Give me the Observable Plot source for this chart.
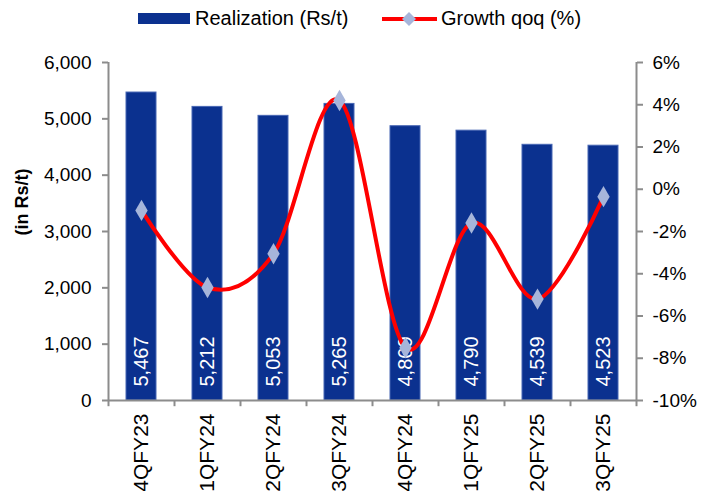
<!DOCTYPE html>
<html>
<head>
<meta charset="utf-8">
<script src="https://cdn.jsdelivr.net/npm/d3@7"></script>
<script src="https://cdn.jsdelivr.net/npm/@observablehq/plot@0.6"></script>
<style>
  body { margin: 0; background: #fff; font-family: "Liberation Sans", Arial, sans-serif; }
  #wrap { width: 713px; position: relative; }
  #legend { position: relative; height: 40px; width: 713px; font-size: 20px; color: #000; }
  #legend .item { position: absolute; top: 0; height: 36px; line-height: 36px; white-space: nowrap; }
  svg { display: block; }
</style>
</head>
<body>
<div id="wrap">
  <div id="legend">
    <div class="item" style="left:138px;">
      <span style="display:inline-block;width:52px;height:11px;background:#0b318f;vertical-align:middle;margin-right:5px;position:relative;top:-1px;"></span>Realization (Rs/t)
    </div>
    <div class="item" style="left:382px;">
      <svg width="56" height="20" style="display:inline-block;vertical-align:middle;position:relative;top:-1px;margin-right:3px;">
        <line x1="0" y1="10" x2="55" y2="10" stroke="#ff0000" stroke-width="4"/>
        <path d="M27,3 L34,10 L27,17 L20,10 Z" fill="#a6b5da"/>
      </svg>Growth qoq (%)
    </div>
  </div>
  <div id="chart"></div>
</div>
<script>
const categories = ["4QFY23", "1QFY24", "2QFY24", "3QFY24", "4QFY24", "1QFY25", "2QFY25", "3QFY25"];
const realization = [5467, 5212, 5053, 5265, 4869, 4790, 4539, 4523];
const growth = [-1.0, -4.65, -3.05, 4.2, -7.5, -1.6, -5.2, -0.35];
const leftTicks = [0, 1000, 2000, 3000, 4000, 5000, 6000];
const rightTicks = [-10, -8, -6, -4, -2, 0, 2, 4, 6];

// right axis (-10%..6%) mapped onto left domain (0..6000)
const toLeft = g => (g + 10) * 375;
const fromLeft = v => Math.round(v / 375 - 10);

const data = categories.map((q, i) => ({q, v: realization[i], g: growth[i]}));

const halfBand = 33;
const plot = Plot.plot({
  width: 713,
  height: 451,
  marginTop: 22,
  marginBottom: 91,
  marginLeft: 108,
  marginRight: 77,
  style: {fontFamily: '"Liberation Sans", Arial, sans-serif', fontSize: "19px", color: "#000", background: "#fff"},
  x: {domain: categories, padding: 0, label: null},
  y: {domain: [0, 6000], label: null},
  marks: [
    Plot.barY(data, {x: "q", y: "v", fill: "#0b318f", stroke: "#4766b3", strokeWidth: 1, insetLeft: 18, insetRight: 18}),
    Plot.text(data, {x: "q", y: 0, text: d => d3.format(",")(d.v), rotate: -90, textAnchor: "start", dy: -14, fill: "#fff", fontSize: 20}),
    // axis lines
    Plot.ruleX([categories[0]], {dx: -halfBand, stroke: "#8c8c8c", strokeWidth: 2}),
    Plot.ruleX([categories[categories.length - 1]], {dx: halfBand, stroke: "#8c8c8c", strokeWidth: 2}),
    Plot.ruleY([0], {stroke: "#8c8c8c", strokeWidth: 2}),
    Plot.ruleX(categories, {dx: -halfBand, y1: 0, y2: -110, stroke: "#8c8c8c", strokeWidth: 2}),
    Plot.ruleX([categories[categories.length - 1]], {dx: halfBand, y1: 0, y2: -110, stroke: "#8c8c8c", strokeWidth: 2}),
    Plot.axisY(leftTicks, {anchor: "left", tickSize: 6, tickPadding: 11, stroke: "#8c8c8c", strokeWidth: 2, fill: "#000", tickFormat: d3.format(","), fontSize: 19}),
    Plot.axisY(rightTicks.map(toLeft), {anchor: "right", tickSize: 6, tickPadding: 10, stroke: "#8c8c8c", strokeWidth: 2, fill: "#000", tickFormat: v => fromLeft(v) + "%", fontSize: 19}),
    Plot.axisX({tickSize: 0, tickPadding: 13, tickRotate: -90, fontSize: 21, fill: "#000"}),
    Plot.text(["(in Rs/t)"], {frameAnchor: "left", text: d => d, rotate: -90, dx: -86, dy: 4, fontWeight: "bold", fontSize: 18, fill: "#000"}),
    // growth line
    Plot.line(data, {x: "q", y: d => toLeft(d.g), curve: "cardinal", stroke: "#ff0000", strokeWidth: 4}),
    Plot.dot(data, {x: "q", y: d => toLeft(d.g), symbol: "diamond", r: 6.5, fill: "#a6b5da", stroke: "none"})
  ]
});
document.getElementById("chart").appendChild(plot);
</script>
</body>
</html>
